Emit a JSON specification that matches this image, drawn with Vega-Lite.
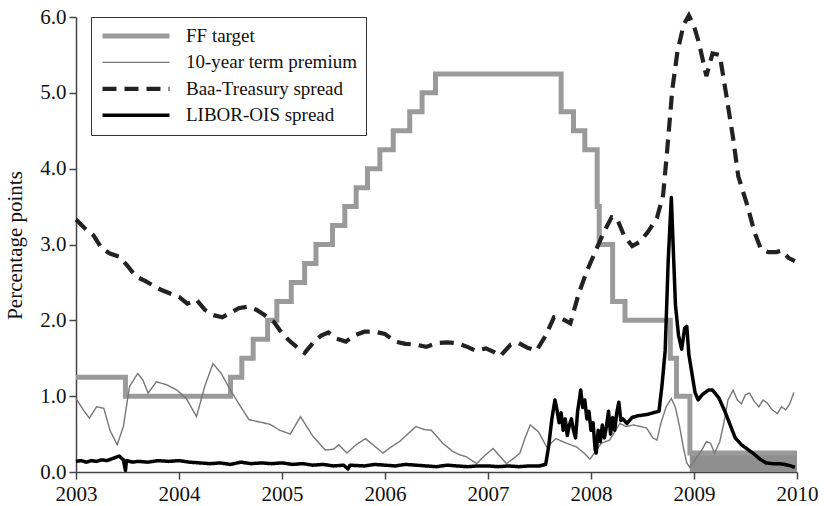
{
  "$schema": "https://vega.github.io/schema/vega-lite/v6.json",
  "width": 721,
  "height": 455,
  "autosize": {"type": "none"},
  "padding": {"left": 76, "top": 17, "right": 27, "bottom": 34},
  "background": "white",
  "config": {
    "view": {"stroke": null},
    "font": "Liberation Serif",
    "axis": {
      "grid": false,
      "domainColor": "#444444",
      "domainWidth": 1.5,
      "tickColor": "#444444",
      "tickWidth": 1.5,
      "tickSize": 7,
      "labelFont": "Liberation Serif",
      "labelFontSize": 21,
      "labelColor": "#111111",
      "titleFont": "Liberation Serif",
      "titleFontSize": 21,
      "titleFontWeight": "normal",
      "titleColor": "#111111"
    },
    "legend": {
      "orient": "none",
      "legendX": 15,
      "legendY": 0,
      "direction": "vertical",
      "strokeColor": "#333333",
      "fillColor": "white",
      "padding": 9,
      "symbolType": "stroke",
      "symbolSize": 4489,
      "clipHeight": 20,
      "rowPadding": 6.4,
      "labelFont": "Liberation Serif",
      "labelFontSize": 19,
      "labelColor": "#111111",
      "labelOffset": 14,
      "labelLimit": 400
    }
  },
  "datasets": {
    "range": [
      {"year": 2008.96, "lo": 0, "hi": 0.25},
      {"year": 2010.0, "lo": 0, "hi": 0.25}
    ],
    "ff": [
      {"year": 2003.00, "value": 1.25, "series": "FF target"},
      {"year": 2003.48, "value": 1.00, "series": "FF target"},
      {"year": 2004.50, "value": 1.25, "series": "FF target"},
      {"year": 2004.61, "value": 1.50, "series": "FF target"},
      {"year": 2004.72, "value": 1.75, "series": "FF target"},
      {"year": 2004.86, "value": 2.00, "series": "FF target"},
      {"year": 2004.95, "value": 2.25, "series": "FF target"},
      {"year": 2005.09, "value": 2.50, "series": "FF target"},
      {"year": 2005.22, "value": 2.75, "series": "FF target"},
      {"year": 2005.33, "value": 3.00, "series": "FF target"},
      {"year": 2005.49, "value": 3.25, "series": "FF target"},
      {"year": 2005.61, "value": 3.50, "series": "FF target"},
      {"year": 2005.72, "value": 3.75, "series": "FF target"},
      {"year": 2005.83, "value": 4.00, "series": "FF target"},
      {"year": 2005.95, "value": 4.25, "series": "FF target"},
      {"year": 2006.08, "value": 4.50, "series": "FF target"},
      {"year": 2006.24, "value": 4.75, "series": "FF target"},
      {"year": 2006.36, "value": 5.00, "series": "FF target"},
      {"year": 2006.49, "value": 5.25, "series": "FF target"},
      {"year": 2007.71, "value": 4.75, "series": "FF target"},
      {"year": 2007.83, "value": 4.50, "series": "FF target"},
      {"year": 2007.94, "value": 4.25, "series": "FF target"},
      {"year": 2008.06, "value": 3.50, "series": "FF target"},
      {"year": 2008.08, "value": 3.00, "series": "FF target"},
      {"year": 2008.21, "value": 2.25, "series": "FF target"},
      {"year": 2008.33, "value": 2.00, "series": "FF target"},
      {"year": 2008.77, "value": 1.50, "series": "FF target"},
      {"year": 2008.83, "value": 1.00, "series": "FF target"},
      {"year": 2008.96, "value": 0.25, "series": "FF target"},
      {"year": 2010.00, "value": 0.25, "series": "FF target"}
    ],
    "tp": [
      {"year": 2003.00, "value": 0.97, "series": "10-year term premium"},
      {"year": 2003.07, "value": 0.82, "series": "10-year term premium"},
      {"year": 2003.13, "value": 0.71, "series": "10-year term premium"},
      {"year": 2003.20, "value": 0.86, "series": "10-year term premium"},
      {"year": 2003.27, "value": 0.84, "series": "10-year term premium"},
      {"year": 2003.33, "value": 0.55, "series": "10-year term premium"},
      {"year": 2003.40, "value": 0.36, "series": "10-year term premium"},
      {"year": 2003.46, "value": 0.60, "series": "10-year term premium"},
      {"year": 2003.52, "value": 1.13, "series": "10-year term premium"},
      {"year": 2003.60, "value": 1.30, "series": "10-year term premium"},
      {"year": 2003.65, "value": 1.21, "series": "10-year term premium"},
      {"year": 2003.70, "value": 1.04, "series": "10-year term premium"},
      {"year": 2003.78, "value": 1.19, "series": "10-year term premium"},
      {"year": 2003.88, "value": 1.15, "series": "10-year term premium"},
      {"year": 2003.98, "value": 1.08, "series": "10-year term premium"},
      {"year": 2004.07, "value": 0.97, "series": "10-year term premium"},
      {"year": 2004.17, "value": 0.73, "series": "10-year term premium"},
      {"year": 2004.25, "value": 1.13, "series": "10-year term premium"},
      {"year": 2004.33, "value": 1.43, "series": "10-year term premium"},
      {"year": 2004.41, "value": 1.30, "series": "10-year term premium"},
      {"year": 2004.50, "value": 1.08, "series": "10-year term premium"},
      {"year": 2004.59, "value": 0.88, "series": "10-year term premium"},
      {"year": 2004.68, "value": 0.69, "series": "10-year term premium"},
      {"year": 2004.78, "value": 0.66, "series": "10-year term premium"},
      {"year": 2004.88, "value": 0.63, "series": "10-year term premium"},
      {"year": 2004.98, "value": 0.55, "series": "10-year term premium"},
      {"year": 2005.08, "value": 0.50, "series": "10-year term premium"},
      {"year": 2005.18, "value": 0.73, "series": "10-year term premium"},
      {"year": 2005.30, "value": 0.47, "series": "10-year term premium"},
      {"year": 2005.42, "value": 0.29, "series": "10-year term premium"},
      {"year": 2005.50, "value": 0.30, "series": "10-year term premium"},
      {"year": 2005.55, "value": 0.36, "series": "10-year term premium"},
      {"year": 2005.63, "value": 0.25, "series": "10-year term premium"},
      {"year": 2005.72, "value": 0.36, "series": "10-year term premium"},
      {"year": 2005.81, "value": 0.44, "series": "10-year term premium"},
      {"year": 2005.90, "value": 0.34, "series": "10-year term premium"},
      {"year": 2005.98, "value": 0.25, "series": "10-year term premium"},
      {"year": 2006.06, "value": 0.33, "series": "10-year term premium"},
      {"year": 2006.14, "value": 0.40, "series": "10-year term premium"},
      {"year": 2006.22, "value": 0.50, "series": "10-year term premium"},
      {"year": 2006.30, "value": 0.60, "series": "10-year term premium"},
      {"year": 2006.38, "value": 0.56, "series": "10-year term premium"},
      {"year": 2006.45, "value": 0.55, "series": "10-year term premium"},
      {"year": 2006.56, "value": 0.38, "series": "10-year term premium"},
      {"year": 2006.66, "value": 0.27, "series": "10-year term premium"},
      {"year": 2006.72, "value": 0.23, "series": "10-year term premium"},
      {"year": 2006.79, "value": 0.20, "series": "10-year term premium"},
      {"year": 2006.89, "value": 0.11, "series": "10-year term premium"},
      {"year": 2006.97, "value": 0.22, "series": "10-year term premium"},
      {"year": 2007.05, "value": 0.31, "series": "10-year term premium"},
      {"year": 2007.12, "value": 0.20, "series": "10-year term premium"},
      {"year": 2007.18, "value": 0.11, "series": "10-year term premium"},
      {"year": 2007.25, "value": 0.18, "series": "10-year term premium"},
      {"year": 2007.31, "value": 0.25, "series": "10-year term premium"},
      {"year": 2007.36, "value": 0.45, "series": "10-year term premium"},
      {"year": 2007.41, "value": 0.62, "series": "10-year term premium"},
      {"year": 2007.49, "value": 0.53, "series": "10-year term premium"},
      {"year": 2007.57, "value": 0.33, "series": "10-year term premium"},
      {"year": 2007.66, "value": 0.44, "series": "10-year term premium"},
      {"year": 2007.76, "value": 0.38, "series": "10-year term premium"},
      {"year": 2007.86, "value": 0.33, "series": "10-year term premium"},
      {"year": 2007.94, "value": 0.24, "series": "10-year term premium"},
      {"year": 2007.99, "value": 0.17, "series": "10-year term premium"},
      {"year": 2008.05, "value": 0.28, "series": "10-year term premium"},
      {"year": 2008.10, "value": 0.38, "series": "10-year term premium"},
      {"year": 2008.18, "value": 0.42, "series": "10-year term premium"},
      {"year": 2008.28, "value": 0.64, "series": "10-year term premium"},
      {"year": 2008.34, "value": 0.60, "series": "10-year term premium"},
      {"year": 2008.41, "value": 0.62, "series": "10-year term premium"},
      {"year": 2008.48, "value": 0.60, "series": "10-year term premium"},
      {"year": 2008.54, "value": 0.58, "series": "10-year term premium"},
      {"year": 2008.60, "value": 0.45, "series": "10-year term premium"},
      {"year": 2008.64, "value": 0.42, "series": "10-year term premium"},
      {"year": 2008.68, "value": 0.65, "series": "10-year term premium"},
      {"year": 2008.73, "value": 0.86, "series": "10-year term premium"},
      {"year": 2008.78, "value": 0.97, "series": "10-year term premium"},
      {"year": 2008.82, "value": 0.85, "series": "10-year term premium"},
      {"year": 2008.86, "value": 0.60, "series": "10-year term premium"},
      {"year": 2008.90, "value": 0.30, "series": "10-year term premium"},
      {"year": 2008.93, "value": 0.12, "series": "10-year term premium"},
      {"year": 2008.96, "value": 0.06, "series": "10-year term premium"},
      {"year": 2009.02, "value": 0.18, "series": "10-year term premium"},
      {"year": 2009.08, "value": 0.30, "series": "10-year term premium"},
      {"year": 2009.12, "value": 0.40, "series": "10-year term premium"},
      {"year": 2009.16, "value": 0.38, "series": "10-year term premium"},
      {"year": 2009.20, "value": 0.25, "series": "10-year term premium"},
      {"year": 2009.25, "value": 0.40, "series": "10-year term premium"},
      {"year": 2009.29, "value": 0.65, "series": "10-year term premium"},
      {"year": 2009.33, "value": 0.95, "series": "10-year term premium"},
      {"year": 2009.38, "value": 1.08, "series": "10-year term premium"},
      {"year": 2009.42, "value": 0.95, "series": "10-year term premium"},
      {"year": 2009.46, "value": 0.90, "series": "10-year term premium"},
      {"year": 2009.50, "value": 1.02, "series": "10-year term premium"},
      {"year": 2009.54, "value": 1.04, "series": "10-year term premium"},
      {"year": 2009.58, "value": 0.94, "series": "10-year term premium"},
      {"year": 2009.63, "value": 0.86, "series": "10-year term premium"},
      {"year": 2009.67, "value": 0.95, "series": "10-year term premium"},
      {"year": 2009.71, "value": 0.91, "series": "10-year term premium"},
      {"year": 2009.76, "value": 0.82, "series": "10-year term premium"},
      {"year": 2009.81, "value": 0.77, "series": "10-year term premium"},
      {"year": 2009.85, "value": 0.86, "series": "10-year term premium"},
      {"year": 2009.89, "value": 0.82, "series": "10-year term premium"},
      {"year": 2009.93, "value": 0.90, "series": "10-year term premium"},
      {"year": 2009.97, "value": 1.05, "series": "10-year term premium"}
    ],
    "baa": [
      {"year": 2003.00, "value": 3.33, "series": "Baa-Treasury spread"},
      {"year": 2003.08, "value": 3.22, "series": "Baa-Treasury spread"},
      {"year": 2003.17, "value": 3.12, "series": "Baa-Treasury spread"},
      {"year": 2003.25, "value": 2.95, "series": "Baa-Treasury spread"},
      {"year": 2003.33, "value": 2.88, "series": "Baa-Treasury spread"},
      {"year": 2003.42, "value": 2.84, "series": "Baa-Treasury spread"},
      {"year": 2003.50, "value": 2.72, "series": "Baa-Treasury spread"},
      {"year": 2003.58, "value": 2.58, "series": "Baa-Treasury spread"},
      {"year": 2003.67, "value": 2.52, "series": "Baa-Treasury spread"},
      {"year": 2003.75, "value": 2.46, "series": "Baa-Treasury spread"},
      {"year": 2003.83, "value": 2.40, "series": "Baa-Treasury spread"},
      {"year": 2003.92, "value": 2.35, "series": "Baa-Treasury spread"},
      {"year": 2004.00, "value": 2.31, "series": "Baa-Treasury spread"},
      {"year": 2004.08, "value": 2.22, "series": "Baa-Treasury spread"},
      {"year": 2004.17, "value": 2.27, "series": "Baa-Treasury spread"},
      {"year": 2004.25, "value": 2.14, "series": "Baa-Treasury spread"},
      {"year": 2004.33, "value": 2.07, "series": "Baa-Treasury spread"},
      {"year": 2004.42, "value": 2.04, "series": "Baa-Treasury spread"},
      {"year": 2004.50, "value": 2.10, "series": "Baa-Treasury spread"},
      {"year": 2004.58, "value": 2.16, "series": "Baa-Treasury spread"},
      {"year": 2004.67, "value": 2.18, "series": "Baa-Treasury spread"},
      {"year": 2004.75, "value": 2.14, "series": "Baa-Treasury spread"},
      {"year": 2004.83, "value": 2.07, "series": "Baa-Treasury spread"},
      {"year": 2004.92, "value": 1.98, "series": "Baa-Treasury spread"},
      {"year": 2005.00, "value": 1.83, "series": "Baa-Treasury spread"},
      {"year": 2005.08, "value": 1.72, "series": "Baa-Treasury spread"},
      {"year": 2005.17, "value": 1.62, "series": "Baa-Treasury spread"},
      {"year": 2005.22, "value": 1.57, "series": "Baa-Treasury spread"},
      {"year": 2005.30, "value": 1.70, "series": "Baa-Treasury spread"},
      {"year": 2005.38, "value": 1.80, "series": "Baa-Treasury spread"},
      {"year": 2005.45, "value": 1.84, "series": "Baa-Treasury spread"},
      {"year": 2005.53, "value": 1.76, "series": "Baa-Treasury spread"},
      {"year": 2005.62, "value": 1.72, "series": "Baa-Treasury spread"},
      {"year": 2005.70, "value": 1.80, "series": "Baa-Treasury spread"},
      {"year": 2005.80, "value": 1.85, "series": "Baa-Treasury spread"},
      {"year": 2005.90, "value": 1.85, "series": "Baa-Treasury spread"},
      {"year": 2006.00, "value": 1.82, "series": "Baa-Treasury spread"},
      {"year": 2006.10, "value": 1.72, "series": "Baa-Treasury spread"},
      {"year": 2006.20, "value": 1.69, "series": "Baa-Treasury spread"},
      {"year": 2006.30, "value": 1.68, "series": "Baa-Treasury spread"},
      {"year": 2006.40, "value": 1.65, "series": "Baa-Treasury spread"},
      {"year": 2006.50, "value": 1.70, "series": "Baa-Treasury spread"},
      {"year": 2006.60, "value": 1.71, "series": "Baa-Treasury spread"},
      {"year": 2006.70, "value": 1.70, "series": "Baa-Treasury spread"},
      {"year": 2006.80, "value": 1.65, "series": "Baa-Treasury spread"},
      {"year": 2006.88, "value": 1.60, "series": "Baa-Treasury spread"},
      {"year": 2006.98, "value": 1.63, "series": "Baa-Treasury spread"},
      {"year": 2007.06, "value": 1.58, "series": "Baa-Treasury spread"},
      {"year": 2007.12, "value": 1.53, "series": "Baa-Treasury spread"},
      {"year": 2007.22, "value": 1.68, "series": "Baa-Treasury spread"},
      {"year": 2007.30, "value": 1.70, "series": "Baa-Treasury spread"},
      {"year": 2007.38, "value": 1.64, "series": "Baa-Treasury spread"},
      {"year": 2007.47, "value": 1.60, "series": "Baa-Treasury spread"},
      {"year": 2007.56, "value": 1.80, "series": "Baa-Treasury spread"},
      {"year": 2007.64, "value": 2.04, "series": "Baa-Treasury spread"},
      {"year": 2007.72, "value": 2.02, "series": "Baa-Treasury spread"},
      {"year": 2007.80, "value": 1.96, "series": "Baa-Treasury spread"},
      {"year": 2007.88, "value": 2.35, "series": "Baa-Treasury spread"},
      {"year": 2007.96, "value": 2.65, "series": "Baa-Treasury spread"},
      {"year": 2008.04, "value": 2.90, "series": "Baa-Treasury spread"},
      {"year": 2008.12, "value": 3.15, "series": "Baa-Treasury spread"},
      {"year": 2008.20, "value": 3.36, "series": "Baa-Treasury spread"},
      {"year": 2008.25, "value": 3.35, "series": "Baa-Treasury spread"},
      {"year": 2008.32, "value": 3.12, "series": "Baa-Treasury spread"},
      {"year": 2008.40, "value": 2.98, "series": "Baa-Treasury spread"},
      {"year": 2008.48, "value": 3.04, "series": "Baa-Treasury spread"},
      {"year": 2008.56, "value": 3.18, "series": "Baa-Treasury spread"},
      {"year": 2008.64, "value": 3.35, "series": "Baa-Treasury spread"},
      {"year": 2008.70, "value": 3.65, "series": "Baa-Treasury spread"},
      {"year": 2008.74, "value": 4.25, "series": "Baa-Treasury spread"},
      {"year": 2008.79, "value": 5.05, "series": "Baa-Treasury spread"},
      {"year": 2008.84, "value": 5.55, "series": "Baa-Treasury spread"},
      {"year": 2008.90, "value": 5.90, "series": "Baa-Treasury spread"},
      {"year": 2008.95, "value": 6.02, "series": "Baa-Treasury spread"},
      {"year": 2009.00, "value": 5.88, "series": "Baa-Treasury spread"},
      {"year": 2009.05, "value": 5.65, "series": "Baa-Treasury spread"},
      {"year": 2009.12, "value": 5.22, "series": "Baa-Treasury spread"},
      {"year": 2009.18, "value": 5.52, "series": "Baa-Treasury spread"},
      {"year": 2009.25, "value": 5.50, "series": "Baa-Treasury spread"},
      {"year": 2009.31, "value": 5.00, "series": "Baa-Treasury spread"},
      {"year": 2009.38, "value": 4.40, "series": "Baa-Treasury spread"},
      {"year": 2009.43, "value": 3.90, "series": "Baa-Treasury spread"},
      {"year": 2009.51, "value": 3.55, "series": "Baa-Treasury spread"},
      {"year": 2009.59, "value": 3.15, "series": "Baa-Treasury spread"},
      {"year": 2009.65, "value": 2.94, "series": "Baa-Treasury spread"},
      {"year": 2009.72, "value": 2.90, "series": "Baa-Treasury spread"},
      {"year": 2009.80, "value": 2.90, "series": "Baa-Treasury spread"},
      {"year": 2009.85, "value": 2.92, "series": "Baa-Treasury spread"},
      {"year": 2009.92, "value": 2.82, "series": "Baa-Treasury spread"},
      {"year": 2009.98, "value": 2.78, "series": "Baa-Treasury spread"}
    ],
    "libor": [
      {"year": 2003.00, "value": 0.14, "series": "LIBOR-OIS spread"},
      {"year": 2003.05, "value": 0.15, "series": "LIBOR-OIS spread"},
      {"year": 2003.10, "value": 0.13, "series": "LIBOR-OIS spread"},
      {"year": 2003.15, "value": 0.15, "series": "LIBOR-OIS spread"},
      {"year": 2003.20, "value": 0.14, "series": "LIBOR-OIS spread"},
      {"year": 2003.25, "value": 0.16, "series": "LIBOR-OIS spread"},
      {"year": 2003.30, "value": 0.15, "series": "LIBOR-OIS spread"},
      {"year": 2003.36, "value": 0.18, "series": "LIBOR-OIS spread"},
      {"year": 2003.42, "value": 0.21, "series": "LIBOR-OIS spread"},
      {"year": 2003.46, "value": 0.16, "series": "LIBOR-OIS spread"},
      {"year": 2003.48, "value": 0.02, "series": "LIBOR-OIS spread"},
      {"year": 2003.49, "value": 0.15, "series": "LIBOR-OIS spread"},
      {"year": 2003.55, "value": 0.13, "series": "LIBOR-OIS spread"},
      {"year": 2003.60, "value": 0.14, "series": "LIBOR-OIS spread"},
      {"year": 2003.70, "value": 0.13, "series": "LIBOR-OIS spread"},
      {"year": 2003.80, "value": 0.15, "series": "LIBOR-OIS spread"},
      {"year": 2003.90, "value": 0.14, "series": "LIBOR-OIS spread"},
      {"year": 2004.00, "value": 0.15, "series": "LIBOR-OIS spread"},
      {"year": 2004.10, "value": 0.13, "series": "LIBOR-OIS spread"},
      {"year": 2004.20, "value": 0.12, "series": "LIBOR-OIS spread"},
      {"year": 2004.30, "value": 0.11, "series": "LIBOR-OIS spread"},
      {"year": 2004.40, "value": 0.12, "series": "LIBOR-OIS spread"},
      {"year": 2004.50, "value": 0.10, "series": "LIBOR-OIS spread"},
      {"year": 2004.60, "value": 0.13, "series": "LIBOR-OIS spread"},
      {"year": 2004.70, "value": 0.11, "series": "LIBOR-OIS spread"},
      {"year": 2004.80, "value": 0.12, "series": "LIBOR-OIS spread"},
      {"year": 2004.90, "value": 0.11, "series": "LIBOR-OIS spread"},
      {"year": 2005.00, "value": 0.12, "series": "LIBOR-OIS spread"},
      {"year": 2005.10, "value": 0.10, "series": "LIBOR-OIS spread"},
      {"year": 2005.20, "value": 0.11, "series": "LIBOR-OIS spread"},
      {"year": 2005.30, "value": 0.09, "series": "LIBOR-OIS spread"},
      {"year": 2005.40, "value": 0.10, "series": "LIBOR-OIS spread"},
      {"year": 2005.50, "value": 0.08, "series": "LIBOR-OIS spread"},
      {"year": 2005.60, "value": 0.09, "series": "LIBOR-OIS spread"},
      {"year": 2005.64, "value": 0.04, "series": "LIBOR-OIS spread"},
      {"year": 2005.66, "value": 0.09, "series": "LIBOR-OIS spread"},
      {"year": 2005.80, "value": 0.08, "series": "LIBOR-OIS spread"},
      {"year": 2005.90, "value": 0.10, "series": "LIBOR-OIS spread"},
      {"year": 2006.00, "value": 0.09, "series": "LIBOR-OIS spread"},
      {"year": 2006.10, "value": 0.08, "series": "LIBOR-OIS spread"},
      {"year": 2006.20, "value": 0.10, "series": "LIBOR-OIS spread"},
      {"year": 2006.30, "value": 0.09, "series": "LIBOR-OIS spread"},
      {"year": 2006.40, "value": 0.08, "series": "LIBOR-OIS spread"},
      {"year": 2006.50, "value": 0.07, "series": "LIBOR-OIS spread"},
      {"year": 2006.60, "value": 0.09, "series": "LIBOR-OIS spread"},
      {"year": 2006.70, "value": 0.08, "series": "LIBOR-OIS spread"},
      {"year": 2006.80, "value": 0.07, "series": "LIBOR-OIS spread"},
      {"year": 2006.90, "value": 0.08, "series": "LIBOR-OIS spread"},
      {"year": 2007.00, "value": 0.08, "series": "LIBOR-OIS spread"},
      {"year": 2007.10, "value": 0.07, "series": "LIBOR-OIS spread"},
      {"year": 2007.20, "value": 0.08, "series": "LIBOR-OIS spread"},
      {"year": 2007.30, "value": 0.07, "series": "LIBOR-OIS spread"},
      {"year": 2007.40, "value": 0.08, "series": "LIBOR-OIS spread"},
      {"year": 2007.50, "value": 0.08, "series": "LIBOR-OIS spread"},
      {"year": 2007.56, "value": 0.10, "series": "LIBOR-OIS spread"},
      {"year": 2007.59, "value": 0.35, "series": "LIBOR-OIS spread"},
      {"year": 2007.62, "value": 0.70, "series": "LIBOR-OIS spread"},
      {"year": 2007.65, "value": 0.95, "series": "LIBOR-OIS spread"},
      {"year": 2007.67, "value": 0.82, "series": "LIBOR-OIS spread"},
      {"year": 2007.69, "value": 0.65, "series": "LIBOR-OIS spread"},
      {"year": 2007.71, "value": 0.78, "series": "LIBOR-OIS spread"},
      {"year": 2007.73, "value": 0.55, "series": "LIBOR-OIS spread"},
      {"year": 2007.75, "value": 0.70, "series": "LIBOR-OIS spread"},
      {"year": 2007.77, "value": 0.48, "series": "LIBOR-OIS spread"},
      {"year": 2007.79, "value": 0.62, "series": "LIBOR-OIS spread"},
      {"year": 2007.81, "value": 0.70, "series": "LIBOR-OIS spread"},
      {"year": 2007.83, "value": 0.55, "series": "LIBOR-OIS spread"},
      {"year": 2007.85, "value": 0.45, "series": "LIBOR-OIS spread"},
      {"year": 2007.87, "value": 0.80, "series": "LIBOR-OIS spread"},
      {"year": 2007.89, "value": 0.98, "series": "LIBOR-OIS spread"},
      {"year": 2007.90, "value": 1.08, "series": "LIBOR-OIS spread"},
      {"year": 2007.92, "value": 0.85, "series": "LIBOR-OIS spread"},
      {"year": 2007.94, "value": 0.95, "series": "LIBOR-OIS spread"},
      {"year": 2007.96, "value": 0.70, "series": "LIBOR-OIS spread"},
      {"year": 2007.98, "value": 0.80, "series": "LIBOR-OIS spread"},
      {"year": 2008.00, "value": 0.55, "series": "LIBOR-OIS spread"},
      {"year": 2008.02, "value": 0.65, "series": "LIBOR-OIS spread"},
      {"year": 2008.04, "value": 0.30, "series": "LIBOR-OIS spread"},
      {"year": 2008.05, "value": 0.25, "series": "LIBOR-OIS spread"},
      {"year": 2008.07, "value": 0.55, "series": "LIBOR-OIS spread"},
      {"year": 2008.09, "value": 0.40, "series": "LIBOR-OIS spread"},
      {"year": 2008.11, "value": 0.62, "series": "LIBOR-OIS spread"},
      {"year": 2008.13, "value": 0.45, "series": "LIBOR-OIS spread"},
      {"year": 2008.15, "value": 0.60, "series": "LIBOR-OIS spread"},
      {"year": 2008.17, "value": 0.80, "series": "LIBOR-OIS spread"},
      {"year": 2008.19, "value": 0.50, "series": "LIBOR-OIS spread"},
      {"year": 2008.21, "value": 0.72, "series": "LIBOR-OIS spread"},
      {"year": 2008.23, "value": 0.55, "series": "LIBOR-OIS spread"},
      {"year": 2008.25, "value": 0.78, "series": "LIBOR-OIS spread"},
      {"year": 2008.27, "value": 0.92, "series": "LIBOR-OIS spread"},
      {"year": 2008.29, "value": 0.68, "series": "LIBOR-OIS spread"},
      {"year": 2008.31, "value": 0.70, "series": "LIBOR-OIS spread"},
      {"year": 2008.35, "value": 0.64, "series": "LIBOR-OIS spread"},
      {"year": 2008.40, "value": 0.72, "series": "LIBOR-OIS spread"},
      {"year": 2008.45, "value": 0.74, "series": "LIBOR-OIS spread"},
      {"year": 2008.50, "value": 0.75, "series": "LIBOR-OIS spread"},
      {"year": 2008.55, "value": 0.76, "series": "LIBOR-OIS spread"},
      {"year": 2008.60, "value": 0.78, "series": "LIBOR-OIS spread"},
      {"year": 2008.66, "value": 0.80, "series": "LIBOR-OIS spread"},
      {"year": 2008.69, "value": 1.15, "series": "LIBOR-OIS spread"},
      {"year": 2008.72, "value": 1.60, "series": "LIBOR-OIS spread"},
      {"year": 2008.75, "value": 2.80, "series": "LIBOR-OIS spread"},
      {"year": 2008.78, "value": 3.62, "series": "LIBOR-OIS spread"},
      {"year": 2008.80, "value": 2.90, "series": "LIBOR-OIS spread"},
      {"year": 2008.82, "value": 2.20, "series": "LIBOR-OIS spread"},
      {"year": 2008.85, "value": 1.80, "series": "LIBOR-OIS spread"},
      {"year": 2008.88, "value": 1.62, "series": "LIBOR-OIS spread"},
      {"year": 2008.91, "value": 1.90, "series": "LIBOR-OIS spread"},
      {"year": 2008.93, "value": 1.92, "series": "LIBOR-OIS spread"},
      {"year": 2008.95, "value": 1.55, "series": "LIBOR-OIS spread"},
      {"year": 2008.98, "value": 1.30, "series": "LIBOR-OIS spread"},
      {"year": 2009.01, "value": 1.05, "series": "LIBOR-OIS spread"},
      {"year": 2009.04, "value": 0.95, "series": "LIBOR-OIS spread"},
      {"year": 2009.08, "value": 1.02, "series": "LIBOR-OIS spread"},
      {"year": 2009.14, "value": 1.08, "series": "LIBOR-OIS spread"},
      {"year": 2009.18, "value": 1.08, "series": "LIBOR-OIS spread"},
      {"year": 2009.24, "value": 0.98, "series": "LIBOR-OIS spread"},
      {"year": 2009.30, "value": 0.80, "series": "LIBOR-OIS spread"},
      {"year": 2009.34, "value": 0.66, "series": "LIBOR-OIS spread"},
      {"year": 2009.40, "value": 0.45, "series": "LIBOR-OIS spread"},
      {"year": 2009.46, "value": 0.36, "series": "LIBOR-OIS spread"},
      {"year": 2009.52, "value": 0.30, "series": "LIBOR-OIS spread"},
      {"year": 2009.58, "value": 0.24, "series": "LIBOR-OIS spread"},
      {"year": 2009.64, "value": 0.17, "series": "LIBOR-OIS spread"},
      {"year": 2009.70, "value": 0.12, "series": "LIBOR-OIS spread"},
      {"year": 2009.76, "value": 0.11, "series": "LIBOR-OIS spread"},
      {"year": 2009.82, "value": 0.11, "series": "LIBOR-OIS spread"},
      {"year": 2009.88, "value": 0.10, "series": "LIBOR-OIS spread"},
      {"year": 2009.94, "value": 0.08, "series": "LIBOR-OIS spread"},
      {"year": 2009.98, "value": 0.06, "series": "LIBOR-OIS spread"}
    ]
  },
  "layer": [
    {
      "data": {"name": "range"},
      "mark": {"type": "area", "color": "#8f8f8f", "opacity": 1},
      "encoding": {
        "x": {"field": "year", "type": "quantitative", "scale": {"domain": [2003, 2010], "nice": false, "zero": false},
          "axis": {"values": [2003, 2004, 2005, 2006, 2007, 2008, 2009, 2010], "format": "d", "title": null, "labelFlush": false, "labelPadding": 4}},
        "y": {"field": "hi", "type": "quantitative", "scale": {"domain": [0, 6], "nice": false},
          "axis": {"values": [0, 1, 2, 3, 4, 5, 6], "format": ".1f", "title": "Percentage points", "labelPadding": 3, "titleX": -55, "titleY": 228, "titleBaseline": "alphabetic", "titleAngle": -90, "titleAlign": "center"}},
        "y2": {"field": "lo"}
      }
    },
    {
      "encoding": {
        "x": {"field": "year", "type": "quantitative"},
        "y": {"field": "value", "type": "quantitative"},
        "color": {"field": "series", "type": "nominal",
          "scale": {"domain": ["FF target", "10-year term premium", "Baa-Treasury spread", "LIBOR-OIS spread"], "range": ["#9a9a9a", "#777777", "#222222", "#000000"]},
          "legend": {"title": null}},
        "strokeWidth": {"field": "series", "type": "nominal",
          "scale": {"type": "ordinal", "domain": ["FF target", "10-year term premium", "Baa-Treasury spread", "LIBOR-OIS spread"], "range": [5, 1.4, 4.2, 3.5]},
          "legend": {"title": null}},
        "strokeDash": {"field": "series", "type": "nominal",
          "scale": {"domain": ["FF target", "10-year term premium", "Baa-Treasury spread", "LIBOR-OIS spread"], "range": [[1, 0], [1, 0], [14, 8], [1, 0]]},
          "legend": {"title": null}}
      },
      "layer": [
        {"data": {"name": "ff"}, "mark": {"type": "line", "interpolate": "step-after"}},
        {"data": {"name": "tp"}, "mark": {"type": "line"}},
        {"data": {"name": "baa"}, "mark": {"type": "line"}},
        {"data": {"name": "libor"}, "mark": {"type": "line", "strokeJoin": "round"}}
      ]
    }
  ]
}
